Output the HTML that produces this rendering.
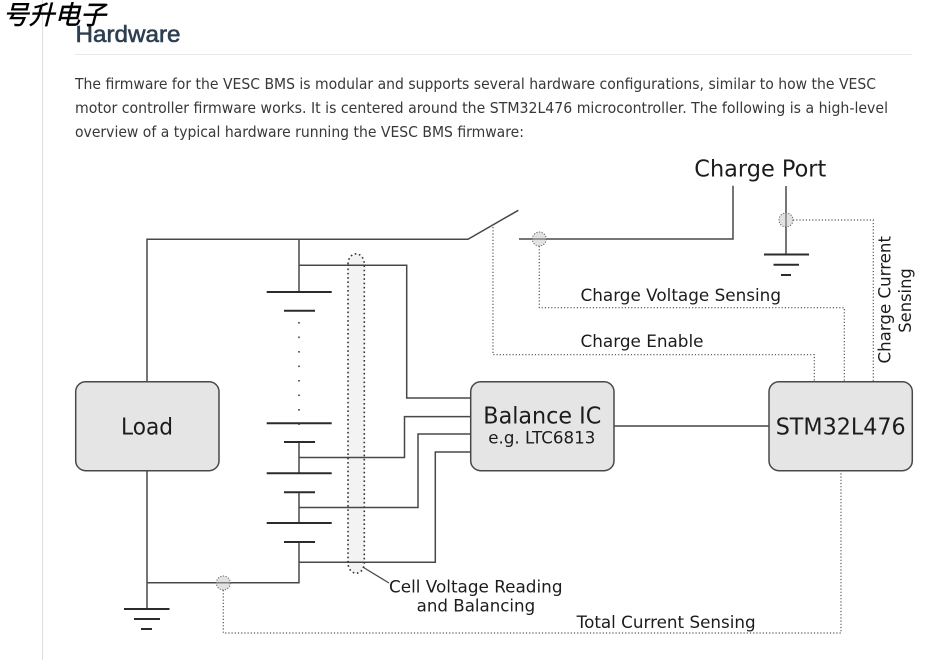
<!DOCTYPE html>
<html><head><meta charset="utf-8"><style>
html,body{margin:0;padding:0;background:#fff;width:950px;height:660px;overflow:hidden}
svg{display:block}
.w{fill:none;stroke:#484848;stroke-width:1.5}
.p{fill:none;stroke:#2b2b2b;stroke-width:2}
.d{fill:none;stroke:#555;stroke-width:1.2;stroke-dasharray:1.2 2}
.b{fill:#e5e5e5;stroke:#484848;stroke-width:1.5}
.c{fill:rgba(190,190,190,.45);stroke:#666;stroke-width:1;stroke-dasharray:1.2 1.5}
.t{font-family:"DejaVu Sans",sans-serif;fill:#1c1c1c}
.para{font-family:"DejaVu Sans","Liberation Sans",sans-serif;font-size:15px;fill:#383838}
</style></head><body>
<svg width="950" height="660" viewBox="0 0 950 660" xmlns="http://www.w3.org/2000/svg">
<rect x="42" y="0" width="1" height="660" fill="#dedede"/>
<rect x="75" y="54" width="837" height="1" fill="#e8e8e8"/>
<text x="75.500" y="42" font-family="'Liberation Sans',sans-serif" font-size="23" fill="#2c3e50" stroke="#2c3e50" stroke-width=".6" textLength="105" lengthAdjust="spacingAndGlyphs">Hardware</text>
<text class="para" x="75" y="89" textLength="801" lengthAdjust="spacingAndGlyphs">The firmware for the VESC BMS is modular and supports several hardware configurations, similar to how the VESC</text>
<text class="para" x="75" y="113" textLength="813" lengthAdjust="spacingAndGlyphs">motor controller firmware works. It is centered around the STM32L476 microcontroller. The following is a high-level</text>
<text class="para" x="75" y="137" textLength="449" lengthAdjust="spacingAndGlyphs">overview of a typical hardware running the VESC BMS firmware:</text>

<!-- capsule -->
<path d="M348 264 A8 10 0 0 1 364.300 264 V563 A8 10 0 0 1 348 563 Z" fill="#f3f3f3" stroke="none"/>

<!-- wires -->
<path class="w" d="M147 381.700V239.300H468L518.300 210.300"/>
<path class="w" d="M299 239.300V292"/>
<path class="w" d="M299 265.300H406.700V398H471"/>
<path class="w" d="M299 442V473M299 492V523M299 542V582.700H147"/>
<path class="w" d="M299 457.500H404.500V416.600H471"/>
<path class="w" d="M299 507.500H418V434H471"/>
<path class="w" d="M299 562.300H435.300V452H471"/>
<path class="w" d="M147 470.700V609"/>
<path class="w" d="M519 239H733V185.700"/>
<path class="w" d="M786 186V254.500"/>
<path class="w" style="stroke:#222;stroke-width:1.300" d="M614 426H769"/>
<path class="w" style="stroke-width:1.200" d="M362.700 567L389 583"/>

<!-- plates -->
<path class="p" d="M266.700 292H331.700M284 310.700H315M266.700 423.300H331.700M284 442H315M266.700 473.300H331.700M284 492.300H315M266.700 523H331.700M284 542H315"/>
<path class="p" d="M124 609H169.500M134 619H160M141 629H152"/>
<path class="p" d="M764 254.500H809M773.500 264.700H799M781 275H791"/>

<!-- battery dots -->
<path d="M299 322V425" fill="none" stroke="#444" stroke-width="1.600" stroke-dasharray="1.600 12.900"/>

<!-- capsule dotted outline -->
<path d="M348 264 A8 10 0 0 1 364.300 264 V563 A8 10 0 0 1 348 563 Z" fill="none" stroke="#333" stroke-width="1.600" stroke-dasharray="1.600 2.700"/>

<!-- sensing dotted -->
<path class="d" d="M539.300 246V307.700H844.300V381.700"/>
<path class="d" d="M493 227V354.700H814.300V381.700"/>
<path class="d" d="M793 220H873.300V381.700"/>
<path class="d" d="M223.300 590V633H841V470.700"/>
<circle class="c" cx="539.300" cy="239" r="7"/>
<circle class="c" cx="786" cy="220" r="7"/>
<circle class="c" cx="223.300" cy="583" r="7"/>

<!-- boxes -->
<rect class="b" x="75.700" y="381.700" width="143.300" height="89" rx="10"/>
<rect class="b" x="470.700" y="381.700" width="143.300" height="89" rx="10"/>
<rect class="b" x="769" y="381.700" width="143.300" height="89" rx="10"/>

<!-- labels -->
<text class="t" x="121" y="434.700" font-size="23" textLength="52" lengthAdjust="spacingAndGlyphs">Load</text>
<text class="t" x="483.300" y="423.300" font-size="23" textLength="118" lengthAdjust="spacingAndGlyphs">Balance IC</text>
<text class="t" x="488.300" y="443.300" font-size="16.500" textLength="107" lengthAdjust="spacingAndGlyphs">e.g. LTC6813</text>
<text class="t" x="775.700" y="434.700" font-size="23" textLength="130" lengthAdjust="spacingAndGlyphs">STM32L476</text>
<text class="t" x="694.300" y="176.700" font-size="23.500" textLength="132" lengthAdjust="spacingAndGlyphs">Charge Port</text>
<text class="t" x="580.500" y="301" font-size="16.500" textLength="200.500" lengthAdjust="spacingAndGlyphs">Charge Voltage Sensing</text>
<text class="t" x="580.500" y="347" font-size="16.500" textLength="123" lengthAdjust="spacingAndGlyphs">Charge Enable</text>
<text class="t" x="389" y="592.700" font-size="16.500" textLength="173.500" lengthAdjust="spacingAndGlyphs">Cell Voltage Reading</text>
<text class="t" x="416.700" y="611.700" font-size="16.500" textLength="118.500" lengthAdjust="spacingAndGlyphs">and Balancing</text>
<text class="t" x="576.700" y="628" font-size="16.500" textLength="179" lengthAdjust="spacingAndGlyphs">Total Current Sensing</text>
<text class="t" transform="translate(890.700 363.500) rotate(-90)" font-size="16.500" textLength="127.500" lengthAdjust="spacingAndGlyphs">Charge Current</text>
<text class="t" transform="translate(911 332.700) rotate(-90)" font-size="16.500" textLength="64.500" lengthAdjust="spacingAndGlyphs">Sensing</text>

<!-- watermark -->
<text x="3" y="24" font-family="'Noto Sans CJK SC',sans-serif" font-size="26" font-weight="400" font-style="italic" fill="#000" stroke="#000" stroke-width=".5" textLength="103" lengthAdjust="spacingAndGlyphs">号升电子</text>
</svg>
</body></html>
